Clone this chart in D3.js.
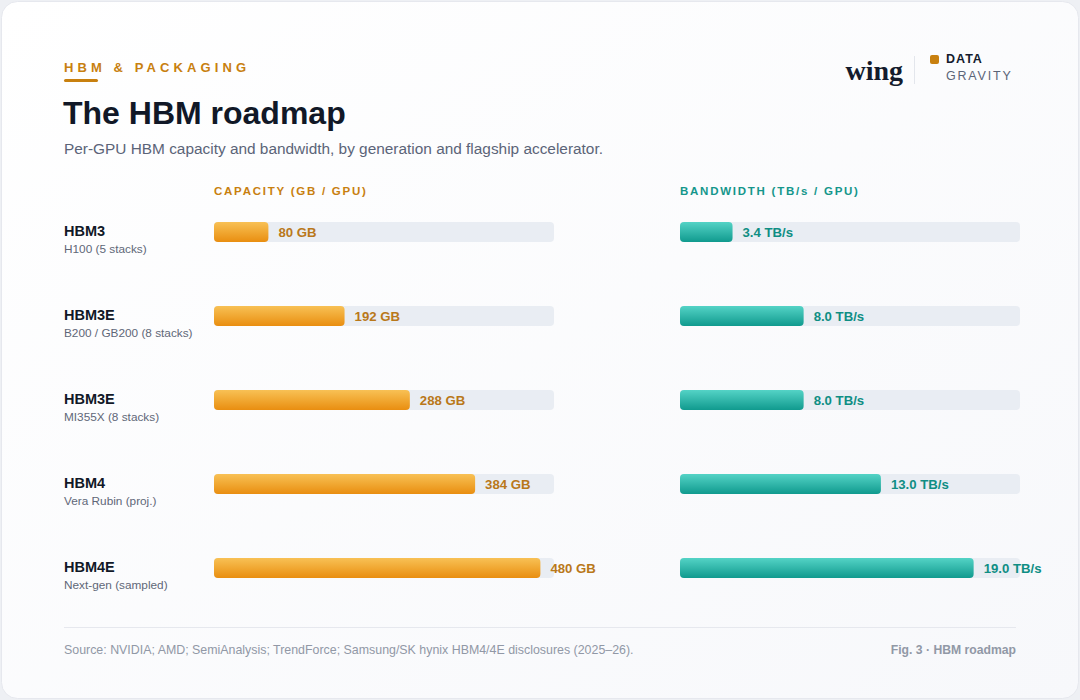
<!DOCTYPE html>
<html>
<head>
<meta charset="utf-8">
<script src="https://cdn.jsdelivr.net/npm/d3@7"></script>
<style>
  html, body { margin: 0; padding: 0; background: #eef0f4; }
  svg { display: block; font-family: 'Liberation Sans', Arial, Helvetica, sans-serif; }
</style>
</head>
<body>
<svg id="chart" width="1080" height="700"></svg>
<script>
// data
var generations = ['HBM3', 'HBM3E', 'HBM3E', 'HBM4', 'HBM4E'];
var accelerators = ['H100 (5 stacks)', 'B200 / GB200 (8 stacks)', 'MI355X (8 stacks)', 'Vera Rubin (proj.)', 'Next-gen (sampled)'];
var capacityGB = [80, 192, 288, 384, 480];
var bandwidthTBs = [3.4, 8.0, 8.0, 13.0, 19.0];

(function () {
  "use strict";

  var svg = d3.select('#chart');
  var W = 1080, H = 700;

  var defs = svg.append('defs');
  var bg = defs.append('linearGradient').attr('id', 'cardBg')
    .attr('x1', 0).attr('y1', 0).attr('x2', 1).attr('y2', 1);
  bg.append('stop').attr('offset', '0%').attr('stop-color', '#ffffff');
  bg.append('stop').attr('offset', '100%').attr('stop-color', '#f7f8fb');

  function vGrad(id, top, bottom) {
    var g = defs.append('linearGradient').attr('id', id)
      .attr('x1', 0).attr('y1', 0).attr('x2', 0).attr('y2', 1);
    g.append('stop').attr('offset', '0%').attr('stop-color', top);
    g.append('stop').attr('offset', '100%').attr('stop-color', bottom);
  }
  vGrad('gradCap', '#f8c155', '#e98e10');
  vGrad('gradBw', '#54d3c6', '#109a8e');

  // card
  svg.append('rect')
    .attr('x', 1.5).attr('y', 1.5).attr('width', W - 3).attr('height', H - 3)
    .attr('rx', 16).attr('fill', 'url(#cardBg)')
    .attr('stroke', '#e6e8ee').attr('stroke-width', 1);

  // header
  svg.append('text')
    .attr('x', 64).attr('y', 72)
    .attr('font-size', 13).attr('font-weight', 700)
    .attr('letter-spacing', 4.1).attr('fill', '#c8800f')
    .text('HBM & PACKAGING');
  svg.append('rect')
    .attr('x', 64).attr('y', 79).attr('width', 34).attr('height', 3)
    .attr('rx', 1.5).attr('fill', '#c8800f');
  svg.append('text')
    .attr('x', 63).attr('y', 124)
    .attr('font-size', 32).attr('font-weight', 700).attr('fill', '#111827')
    .text('The HBM roadmap');
  svg.append('text')
    .attr('x', 64).attr('y', 154)
    .attr('font-size', 15.4).attr('fill', '#5b6478')
    .text('Per-GPU HBM capacity and bandwidth, by generation and flagship accelerator.');

  // brand
  svg.append('text')
    .attr('x', 903).attr('y', 80).attr('text-anchor', 'end')
    .attr('font-family', "'Liberation Serif', 'DejaVu Serif', serif")
    .attr('font-size', 28).attr('font-weight', 700).attr('fill', '#141b2d')
    .text('wing');
  svg.append('line')
    .attr('x1', 914.5).attr('x2', 914.5).attr('y1', 56).attr('y2', 84)
    .attr('stroke', '#e3e6ec').attr('stroke-width', 1);
  svg.append('rect')
    .attr('x', 930).attr('y', 55).attr('width', 9).attr('height', 9)
    .attr('rx', 2).attr('fill', '#c8800f');
  svg.append('text')
    .attr('x', 946).attr('y', 63)
    .attr('font-size', 12.5).attr('font-weight', 700).attr('letter-spacing', 1)
    .attr('fill', '#141b2d').text('DATA');
  svg.append('text')
    .attr('x', 946).attr('y', 80)
    .attr('font-size', 12.5).attr('font-weight', 500).attr('letter-spacing', 1.8)
    .attr('fill', '#5b6478').text('GRAVITY');

  // layout
  var rows = d3.range(generations.length);
  var y = d3.scaleBand().domain(rows).range([190, 610]).paddingInner(0);
  var barH = 20;
  function rowMid(i) { return y(i) + y.bandwidth() / 2; }

  var xCap = d3.scaleLinear().domain([0, 500]).range([214, 554]);
  var xBw = d3.scaleLinear().domain([0, 22]).range([680, 1020]);

  var panels = [
    { title: 'CAPACITY (GB / GPU)', scale: xCap, values: capacityGB, grad: 'url(#gradCap)',
      color: '#c8800f', label: '#b9781a', fmt: function (v) { return v + ' GB'; } },
    { title: 'BANDWIDTH (TB/s / GPU)', scale: xBw, values: bandwidthTBs, grad: 'url(#gradBw)',
      color: '#14968b', label: '#0f8e84', fmt: function (v) { return v.toFixed(1) + ' TB/s'; } }
  ];

  // row labels
  var rowLabels = svg.append('g').attr('class', 'row-labels');
  rows.forEach(function (i) {
    rowLabels.append('text')
      .attr('x', 64).attr('y', rowMid(i) + 3.5)
      .attr('font-size', 14.5).attr('font-weight', 700).attr('fill', '#111827')
      .text(generations[i]);
    rowLabels.append('text')
      .attr('x', 64).attr('y', rowMid(i) + 20.5)
      .attr('font-size', 11.8).attr('fill', '#5f6778')
      .text(accelerators[i]);
  });

  panels.forEach(function (p) {
    var g = svg.append('g').attr('class', 'panel');
    var x0 = p.scale.range()[0];

    g.append('text')
      .attr('x', x0).attr('y', 195)
      .attr('font-size', 11.5).attr('font-weight', 700).attr('letter-spacing', 1.75)
      .attr('fill', p.color).text(p.title);

    g.selectAll('rect.track').data(rows).enter().append('rect')
      .attr('class', 'track')
      .attr('x', x0)
      .attr('y', function (i) { return rowMid(i) - barH / 2; })
      .attr('width', p.scale.range()[1] - x0)
      .attr('height', barH).attr('rx', 4)
      .attr('fill', '#e9edf3');

    g.selectAll('rect.bar').data(rows).enter().append('rect')
      .attr('class', 'bar')
      .attr('x', x0)
      .attr('y', function (i) { return rowMid(i) - barH / 2; })
      .attr('width', function (i) { return p.scale(p.values[i]) - x0; })
      .attr('height', barH).attr('rx', 4)
      .attr('fill', p.grad);

    g.selectAll('text.val').data(rows).enter().append('text')
      .attr('class', 'val')
      .attr('x', function (i) { return p.scale(p.values[i]) + 10; })
      .attr('y', function (i) { return rowMid(i) + 5; })
      .attr('font-size', 13.2).attr('font-weight', 700)
      .attr('fill', p.label)
      .text(function (i) { return p.fmt(p.values[i]); });
  });

  // footer
  svg.append('line')
    .attr('x1', 64).attr('x2', 1016).attr('y1', 627.5).attr('y2', 627.5)
    .attr('stroke', '#e6e8ee').attr('stroke-width', 1);
  svg.append('text')
    .attr('x', 64).attr('y', 654)
    .attr('font-size', 12.4).attr('fill', '#9198a6')
    .text('Source: NVIDIA; AMD; SemiAnalysis; TrendForce; Samsung/SK hynix HBM4/4E disclosures (2025\u201326).');
  svg.append('text')
    .attr('x', 1016).attr('y', 654).attr('text-anchor', 'end')
    .attr('font-size', 12.2).attr('font-weight', 700).attr('fill', '#9198a6')
    .text('Fig. 3 \u00b7 HBM roadmap');
})();
</script>
</body>
</html>
